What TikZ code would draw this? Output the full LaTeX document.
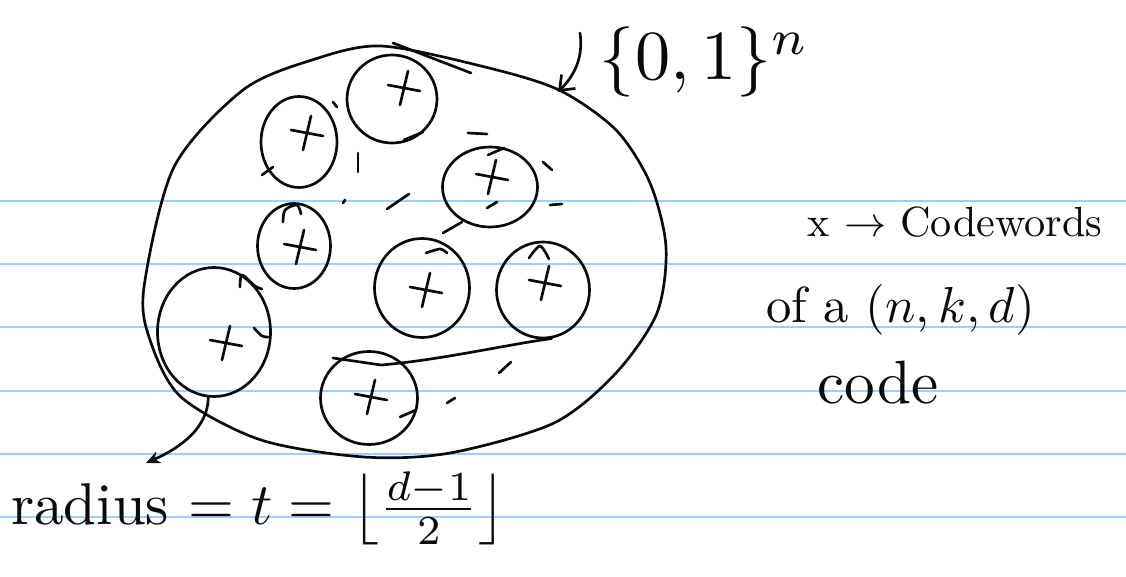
\documentclass[tikz,border=0pt]{standalone}
\usepackage{amsmath}
\usetikzlibrary{shapes.geometric, arrows.meta, positioning, calc}
\definecolor{ruleblue}{RGB}{160,205,250}
\definecolor{ink}{RGB}{10,10,10}

\begin{document}
\begin{tikzpicture}[x=0.025cm, y=-0.025cm,
    pen/.style={draw=ink, line width=1.9pt, line cap=round, line join=round},
    ball/.style={ellipse, pen, inner sep=0pt},
    note/.style={text=ink, inner sep=0pt, scale=3}]
    \useasboundingbox (0,0) rectangle (1126,577);
    \fill[white] (0,0) rectangle (1126,577);

    % Ruled lines of the page
    \foreach \y in {201,264,327,391,454,517} {
        \draw[ruleblue, line width=1.2pt] (0,\y) -- (1126,\y);
    }

    % The space {0,1}^n
    \draw[pen] plot[smooth cycle] coordinates {(144,287) (150,340) (181,397) (261,440) (364,457) (450,453) (554,423) (616,373) (657,313) (666,247) (650,183) (616,130) (559,90) (485,67) (381,46) (312,60) (243,90) (174,167)};

    % Balls round the codewords
    \foreach \n/\cx/\cy/\w/\h/\dx/\dy in {c1/299/142/76/91/8/-9, c2/392/99/90/88/12/-11, c3/490/187/95/80/2/-10, c4/294/246/73/85/6/1, c5/422/288/95/99/4/2, c6/543/290/93/96/2/-7, c7/214/332/113/129/12/11, c8/369/398/97/93/2/-1} {
        \node[ball, minimum width=\w*0.025cm, minimum height=\h*0.025cm] (\n) at (\cx,\cy) {};
        \draw[pen] ($(\n)+(\dx-16,\dy-3)$) -- ($(\n)+(\dx+16,\dy+3)$);
        \draw[pen] ($(\n)+(\dx+4,\dy-17)$) -- ($(\n)+(\dx-4,\dy+17)$);
    }

    % stray strokes
    \foreach \a/\b/\c/\d in {468/133/487/134, 358/153/358/172, 387/209/409/194, 543/162/552/170, 550/205/562/204, 499/373/511/362, 447/403/455/398, 443/233/462/222, 343/203/345/200, 393/43/471/73, 404/140/423/132, 488/155/504/148, 487/208/497/202, 262/175/273/167, 400/417/416/410, 333/102/337/107} {
        \draw[pen] (\a,\b) -- (\c,\d);
    }
    \draw[pen] plot[smooth] coordinates {(283,222) (285,210) (297,205) (301,214)};
    \draw[pen] plot[smooth] coordinates {(240,287) (242,275) (255,286) (262,289)};
    \draw[pen] plot[smooth] coordinates {(254,328) (262,336) (268,337)};
    \draw[pen] plot[smooth] coordinates {(426,253) (440,249) (447,253)};
    \draw[pen] plot[smooth] coordinates {(529,258) (540,246) (549,259)};
    \draw[pen] (c6.-80) .. controls (505,345) and (440,360) .. (381,365) -- (333,358);

    % Labels
    \node[note, scale=5/3] (space) at (705,62) {$\{0,1\}^n$};
    \node[note] (key) at (955,222) {x $\rightarrow$ Codewords};
    \node[note, scale=1.2, anchor=west] (key2) at (765,310) {of a $(n,k,d)$};
    \node[note, scale=1.45] (key3) at (878,383) {code};
    \node[note, scale=1.4, anchor=base west] (radius) at (10,524) {radius $= t = \left\lfloor \frac{d-1}{2} \right\rfloor$};

    % Arrows
    \coordinate (tail) at (580,33);
    \coordinate (tip) at (558,92);
    \coordinate (foot) at (146,463);
    \draw[pen, -{Straight Barb[length=9pt, width=14pt]}] (tail) .. controls (584,60) and (572,78) .. (tip);
    \draw[pen, -{Stealth[length=10pt, width=9pt]}] (c7.-95) .. controls (208,428) and (180,448) .. (foot);
\end{tikzpicture}
\end{document}
